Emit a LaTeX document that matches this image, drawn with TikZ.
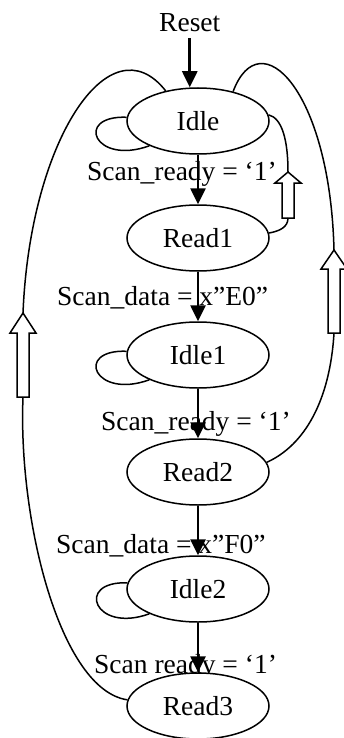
\documentclass[tikz,border=0pt]{standalone}
\usepackage{fontspec}
\setmainfont{Liberation Serif}
\usetikzlibrary{shapes.geometric, arrows.meta, positioning}
\tikzset{
    stateell/.style={ellipse, draw=black, line width=1.5pt, fill=white, minimum width=142pt, minimum height=66pt, inner sep=0pt},
    cond/.style={anchor=base west, inner sep=0pt},
    trans/.style={line width=2.6pt, -{Triangle[length=16pt, width=15pt]}},
    backline/.style={line width=1.5pt},
    pics/hollowup/.style 2 args={code={
        \draw[backline, fill=white] (-6,0) -- (-6,{-#1+#2}) -- (-13,{-#1+#2}) -- (0,-#1) -- (13,{-#1+#2}) -- (6,{-#1+#2}) -- (6,0) -- cycle;
        \coordinate (-tail) at (0,0);
        \coordinate (-tip) at (0,-#1);
    }},
}

\begin{document}
\begin{tikzpicture}[x=1pt, y=-1pt, node distance=117pt, font=\fontsize{27.5}{31}\selectfont]
  \useasboundingbox (0,0) rectangle (344,738);

  % conditions first, the states cover them
  \node[cond] (c1) at (87,180) {Scan\_ready = `1'};
  \node[cond] (c2) at (57,305) {Scan\_data = x''E0''};
  \node[cond] (c3) at (101,430) {Scan\_ready = `1'};
  \node[cond] (c4) at (56,553) {Scan\_data = x''F0''};
  \node[cond] (c5) at (94,673) {Scan ready = `1'};

  \node[cond] (reset) at (159,32) {Reset};
  \node[stateell] (idle)  at (198,121) {Idle};
  \node[stateell] (read1) [below of=idle]  {Read1};
  \node[stateell] (idle1) [below of=read1] {Idle1};
  \node[stateell] (read2) [below of=idle1] {Read2};
  \node[stateell] (idle2) [below of=read2] {Idle2};
  \node[stateell] (read3) [below of=idle2] {Read3};

  \draw[trans] ([yshift=-6pt]reset.south) -- (reset.south |- idle.north);
  \draw[trans] (idle)  -- (read1);
  \draw[trans] (read1) -- (idle1);
  \draw[trans] (idle1) -- (read2);
  \draw[trans] (read2) -- (idle2);
  \draw[trans] (idle2) -- (read3);

  % waiting loops
  \draw[backline] (idle.177)  .. controls +(-53,-2) and +(-55,20) .. (idle.207);
  \draw[backline] (idle1.177) .. controls +(-53,-2) and +(-55,20) .. (idle1.207);
  \draw[backline] (idle2.175) .. controls +(-53,-2) and +(-55,20) .. (idle2.207);

  % back to idle
  \pic (ret1) at (23,397) {hollowup={84}{20}};
  \draw[backline] (read3.175) .. controls (60,690) and (18,520) .. (ret1-tail);
  \draw[backline] (ret1-tip) .. controls (30,140) and (110,20) .. (idle.137);

  \pic (ret2) at (288,218) {hollowup={46}{11}};
  \draw[backline] (read1.4) .. controls (280,231) and (288,227) .. (ret2-tail);
  \draw[backline] (ret2-tip) .. controls (288,140) and (282,118) .. (idle.5);

  \pic (ret3) at (334,333) {hollowup={83}{19}};
  \draw[backline] (read2.8) .. controls (305,445) and (330,400) .. (ret3-tail);
  \draw[backline] (ret3-tip) .. controls (330,90) and (260,20) .. (idle.40);
\end{tikzpicture}
\end{document}
